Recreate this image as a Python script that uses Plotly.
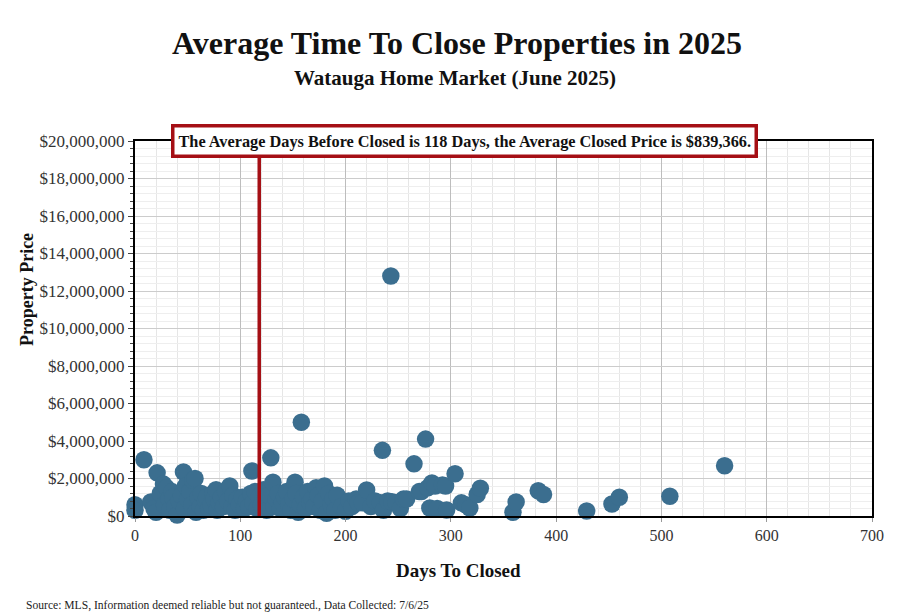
import plotly.graph_objects as go

days = [0, 0, 8.5, 15, 18, 20, 21, 24, 27, 28, 30, 32, 33, 35, 36, 38, 40, 42, 44, 46,
        47, 48, 50, 52, 54, 55, 57, 58, 60, 62, 63, 65, 67, 68, 70, 72, 74, 75, 77, 78,
        80, 82, 84, 86, 88, 90, 92, 93, 95, 97, 99, 102, 104, 106, 108, 110, 111, 112, 114, 116,
        118, 120, 122, 124, 125, 127, 129, 131, 132, 134, 136, 138, 140, 142, 144, 146, 148, 150, 152, 153,
        155, 157, 158, 160, 162, 164, 166, 168, 170, 172, 174, 176, 178, 180, 182, 184, 186, 188, 190, 192,
        196, 200, 203, 206, 210, 212, 216, 220, 224, 228, 233, 235, 236, 240, 243, 244, 248, 252, 255, 258,
        265, 270, 272, 276, 278, 280, 282, 285, 287, 292, 295, 296, 304, 310, 314, 318, 325, 328, 359, 362,
        383, 388, 429, 453, 460, 508, 560]
prices_m = [0.6, 0.3, 3.0, 0.75, 0.4, 0.2, 2.3, 1.2, 1.7, 0.6, 1.5, 0.9, 0.3, 1.3, 1.0, 0.5, 0.05, 0.8, 1.1, 2.35,
            0.4, 1.6, 0.9, 1.3, 0.6, 1.9, 2.0, 0.2, 1.0, 0.5, 1.2, 0.3, 0.8, 1.0, 0.4, 0.6, 1.2, 0.9, 1.4, 0.3,
            0.7, 1.0, 0.5, 1.3, 0.8, 1.6, 0.5, 1.1, 0.3, 0.9, 0.6, 1.0, 0.4, 0.8, 0.5, 1.2, 2.4, 0.7, 1.3, 0.4,
            1.0, 0.6, 1.4, 0.9, 0.3, 1.1, 3.1, 1.8, 0.5, 0.9, 1.2, 0.4, 0.7, 1.0, 1.3, 0.6, 0.3, 0.9, 1.8, 1.2,
            0.2, 0.6, 5.0, 1.0, 0.4, 1.3, 0.7, 0.9, 0.5, 1.5, 1.1, 0.3, 0.8, 1.6, 0.15, 1.2, 0.6, 0.9, 0.3, 1.1,
            0.5, 0.25, 0.8, 0.5, 0.9, 0.7, 0.7, 1.39, 0.5, 0.8, 0.7, 3.5, 0.3, 0.8, 12.8, 0.76, 0.7, 0.4, 0.9, 0.9,
            2.78, 1.3, 1.3, 4.1, 1.5, 0.43, 1.76, 1.6, 0.4, 1.65, 1.6, 0.32, 2.25, 0.7, 0.6, 0.43, 1.15, 1.48, 0.2, 0.75,
            1.35, 1.15, 0.27, 0.64, 1.0, 1.05, 2.68]
prices = [p * 1_000_000 for p in prices_m]

avg_days = 118
avg_price = 839366

title_text = "Average Time To Close Properties in 2025"
subtitle_text = "Watauga Home Market (June 2025)"
x_title = "Days To Closed"
y_title = "Property Price"
source_text = "Source: MLS, Information deemed reliable but not guaranteed., Data Collected: 7/6/25"

serif = "Liberation Serif"

# plot area in pixels: left 135, right 872, top 141, bottom 516
PL, PW, PB, PH = 135, 737, 516, 375
def px(x):
    return (x - PL) / PW
def py(y):
    return (PB - y) / PH

fig = go.Figure()
fig.add_trace(go.Scatter(
    x=days, y=prices, mode="markers", cliponaxis=False,
    marker=dict(size=17.5, color="#3b6e8f", line=dict(width=0)),
    showlegend=False, hoverinfo="x+y"))

fig.add_shape(type="line", xref="x", yref="y", x0=avg_days, x1=avg_days,
              y0=-200000, y1=20000000, line=dict(color="#a50f15", width=3.5), layer="above")

fig.add_annotation(
    xref="paper", yref="paper", x=px(464), y=1.0, xanchor="center", yanchor="middle",
    text=f"<b>The Average Days Before Closed is {avg_days} Days, the Average Closed Price is ${avg_price:,}.</b>",
    showarrow=False, font=dict(family=serif, size=16.3, color="#111"),
    bgcolor="white", bordercolor="#a50f15", borderwidth=3.5, borderpad=4)

fig.add_annotation(xref="paper", yref="paper", x=px(457), y=py(43), xanchor="center", yanchor="middle",
                   showarrow=False, text=f"<b>{title_text}</b>",
                   font=dict(family=serif, size=32, color="#111"))
fig.add_annotation(xref="paper", yref="paper", x=px(455), y=py(78), xanchor="center", yanchor="middle",
                   showarrow=False, text=f"<b>{subtitle_text}</b>",
                   font=dict(family=serif, size=21, color="#111"))
fig.add_annotation(xref="paper", yref="paper", x=px(458), y=py(570), xanchor="center", yanchor="middle",
                   showarrow=False, text=f"<b>{x_title}</b>",
                   font=dict(family=serif, size=19, color="#111"))
fig.add_annotation(xref="paper", yref="paper", x=px(27), y=py(290), xanchor="center", yanchor="middle",
                   showarrow=False, text=f"<b>{y_title}</b>", textangle=-90,
                   font=dict(family=serif, size=18, color="#111"))
fig.add_annotation(xref="paper", yref="paper", x=px(24), y=py(605), xanchor="left", yanchor="middle",
                   showarrow=False, text=source_text,
                   font=dict(family=serif, size=11.6, color="#222"))

fig.update_layout(
    width=901, height=615,
    margin=dict(l=135, r=29, t=141, b=99),
    paper_bgcolor="white", plot_bgcolor="white",
    font=dict(family=serif, color="#222"),
)
fig.update_xaxes(
    range=[0, 700], dtick=100, tick0=0,
    showgrid=True, gridcolor="#bdbdbd", gridwidth=1,
    minor=dict(dtick=20, showgrid=True, gridcolor="#e6e6e6", ticks=""),
    showline=True, linecolor="black", linewidth=2, mirror=True,
    ticks="outside", ticklen=4, tickcolor="#999",
    zeroline=False,
    tickfont=dict(family=serif, size=16, color="#333"))
fig.update_yaxes(
    range=[0, 20000000], dtick=2000000, tick0=0,
    tickprefix="$", tickformat=",d",
    showgrid=True, gridcolor="#cccccc", gridwidth=1,
    minor=dict(dtick=400000, showgrid=True, gridcolor="#eeeeee", ticks="outside", ticklen=3, tickcolor="#444"),
    showline=True, linecolor="black", linewidth=2, mirror=True,
    ticks="outside", ticklen=5, tickcolor="#444",
    zeroline=False,
    tickfont=dict(family=serif, size=17, color="#333"))

fig.write_html("out.html", config={"displayModeBar": False},
               post_script="document.body.style.margin='0';document.body.style.overflow='hidden';")
